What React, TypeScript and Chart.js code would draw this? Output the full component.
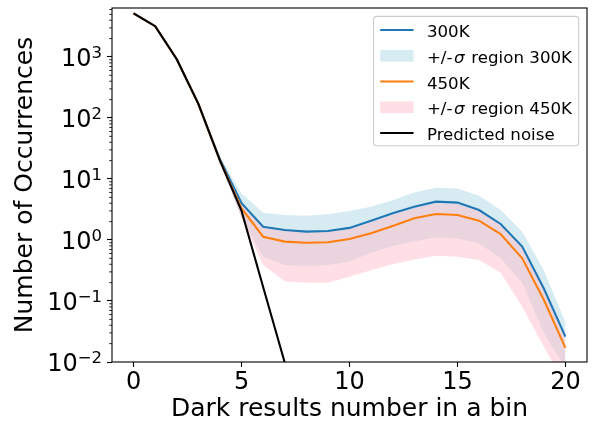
import React, { useEffect, useRef } from 'react';
import { Chart, registerables } from 'chart.js';

Chart.register(...registerables);

// ---------------- data ----------------
const xValues = [0, 1, 2, 3, 4, 5, 6, 7, 8, 9, 10, 11, 12, 13, 14, 15, 16, 17, 18, 19, 20];
const xTicks = [0, 5, 10, 15, 20];
const yDecades = [-2, -1, 0, 1, 2, 3];
const Y_MIN = 0.01;
const Y_MAX = 6350;
const X_MIN = -1;
const X_MAX = 21;

const predictedNoise = [5200, 3200, 920, 170, 20, 3.0, 0.17, 0.0098, 0.0003];

const mean300 = [5200, 3200, 920, 170, 21, 4.0, 1.65, 1.46, 1.37, 1.4, 1.58, 2.07, 2.74, 3.5, 4.25, 4.1, 3.1, 1.83, 0.78, 0.16, 0.026];
const upper300 = [5300, 3260, 940, 176, 23, 5.8, 2.8, 2.57, 2.5, 2.65, 3.0, 3.5, 4.5, 6.0, 7.2, 7.0, 5.3, 3.1, 1.37, 0.32, 0.045];
const lower300 = [5100, 3140, 900, 164, 19, 2.3, 0.53, 0.39, 0.375, 0.39, 0.44, 0.62, 0.8, 0.95, 1.1, 1.06, 0.88, 0.5, 0.2, 0.03, 0.008];

const mean450 = [5200, 3200, 920, 170, 20, 3.3, 1.13, 0.94, 0.9, 0.92, 1.04, 1.29, 1.7, 2.27, 2.67, 2.57, 2.07, 1.25, 0.5, 0.105, 0.017];
const upper450 = [5250, 3230, 930, 173, 21, 4.0, 1.6, 1.42, 1.33, 1.36, 1.5, 1.95, 2.6, 3.3, 4.0, 3.9, 3.0, 1.75, 0.75, 0.15, 0.024];
const lower450 = [5150, 3170, 910, 167, 18.5, 2.3, 0.39, 0.21, 0.2, 0.2, 0.25, 0.32, 0.4, 0.48, 0.55, 0.53, 0.47, 0.29, 0.08, 0.018, 0.004];

const legendLabels = ['300K', '+/-σ region 300K', '450K', '+/-σ region 450K', 'Predicted noise'];
const xTitle = 'Dark results number in a bin';
const yTitle = 'Number of Occurrences';

// ---------------- styles ----------------
const FONT = "'DejaVu Sans', sans-serif";
const BLUE = '#1f77b4';
const ORANGE = '#ff7f0e';
const BAND_BLUE = 'rgba(173,216,230,0.5)';
const BAND_PINK = 'rgba(255,192,203,0.5)';
const LINE_W = 2.08;
const SIGMA_GAP = 1.5;

const pts = (arr: number[]) => arr.map((y, i) => ({ x: xValues[i], y }));

const decorPlugin = {
  id: 'decor',
  afterDraw(chart: any) {
    const ctx: CanvasRenderingContext2D = chart.ctx;
    const { left, right, top, bottom } = chart.chartArea;
    const ys = chart.scales.y;
    ctx.save();

    // minor y ticks
    ctx.strokeStyle = '#000';
    ctx.lineWidth = 0.83;
    for (let k = -2; k <= 3; k++) {
      for (let m = 2; m <= 9; m++) {
        const v = m * Math.pow(10, k);
        if (v < Y_MIN || v > Y_MAX) continue;
        const py = ys.getPixelForValue(v);
        ctx.beginPath();
        ctx.moveTo(left - 2.8, py);
        ctx.lineTo(left, py);
        ctx.stroke();
      }
    }

    // frame
    ctx.lineWidth = 1.1;
    ctx.strokeRect(left, top, right - left, bottom - top);

    // y tick labels (10 with superscript)
    const F = 24;
    const FS = 16.5;
    const RAISE = 8;
    const LABEL_RIGHT = 102;
    ctx.fillStyle = '#000';
    ctx.textBaseline = 'alphabetic';
    ctx.textAlign = 'left';
    for (const k of yDecades) {
      const py = ys.getPixelForValue(Math.pow(10, k));
      const main = '10';
      const sup = k < 0 ? '\u2212' + String(-k) : String(k);
      ctx.font = `${F}px ${FONT}`;
      const wm = ctx.measureText(main).width;
      ctx.font = `${FS}px ${FONT}`;
      const wsup = ctx.measureText(sup).width;
      const x0 = LABEL_RIGHT - wm - wsup;
      const base = py + 9;
      ctx.font = `${F}px ${FONT}`;
      ctx.fillText(main, x0, base);
      ctx.font = `${FS}px ${FONT}`;
      ctx.fillText(sup, x0 + wm, base - RAISE);
    }

    // legend
    const LF = 16.67;
    const items = [
      { label: legendLabels[0], kind: 'line', color: BLUE },
      { label: legendLabels[1], kind: 'patch', color: BAND_BLUE },
      { label: legendLabels[2], kind: 'line', color: ORANGE },
      { label: legendLabels[3], kind: 'patch', color: BAND_PINK },
      { label: legendLabels[4], kind: 'line', color: '#000' },
    ];
    const measure = (s: string) => {
      const parts = s.split('σ');
      let w = 0;
      parts.forEach((p, i) => {
        ctx.font = `${LF}px ${FONT}`;
        w += ctx.measureText(p).width;
        if (i < parts.length - 1) {
          ctx.font = `italic ${LF}px ${FONT}`;
          w += ctx.measureText('σ').width + 2 * SIGMA_GAP;
        }
      });
      return w;
    };
    const maxText = Math.max(...items.map((it) => measure(it.label)));
    const pad = 0.4 * LF;
    const handleLen = 2 * LF;
    const textPad = 0.8 * LF;
    const boxW = pad + handleLen + textPad + maxText + pad;
    const rowH = 25.75;
    const boxH = 13.7 * 2 + rowH * (items.length - 1) - 1;
    const bx = right - 0.5 * LF - boxW;
    const by = top + 0.5 * LF;
    const r = 3.3;
    ctx.beginPath();
    ctx.moveTo(bx + r, by);
    ctx.lineTo(bx + boxW - r, by);
    ctx.arcTo(bx + boxW, by, bx + boxW, by + r, r);
    ctx.lineTo(bx + boxW, by + boxH - r);
    ctx.arcTo(bx + boxW, by + boxH, bx + boxW - r, by + boxH, r);
    ctx.lineTo(bx + r, by + boxH);
    ctx.arcTo(bx, by + boxH, bx, by + boxH - r, r);
    ctx.lineTo(bx, by + r);
    ctx.arcTo(bx, by, bx + r, by, r);
    ctx.closePath();
    ctx.fillStyle = 'rgba(255,255,255,0.8)';
    ctx.fill();
    ctx.strokeStyle = '#cccccc';
    ctx.lineWidth = 1.1;
    ctx.stroke();

    items.forEach((it, i) => {
      const cy = by + 13.7 + i * rowH;
      const hx = bx + pad;
      if (it.kind === 'line') {
        ctx.strokeStyle = it.color;
        ctx.lineWidth = LINE_W;
        ctx.beginPath();
        ctx.moveTo(hx, cy);
        ctx.lineTo(hx + handleLen, cy);
        ctx.stroke();
      } else {
        ctx.fillStyle = it.color;
        ctx.fillRect(hx, cy - 0.35 * LF, handleLen, 0.7 * LF);
      }
      ctx.fillStyle = '#000';
      let tx = hx + handleLen + textPad;
      const base = cy + 7.1;
      const parts = it.label.split('σ');
      parts.forEach((p, j) => {
        ctx.font = `${LF}px ${FONT}`;
        ctx.fillText(p, tx, base);
        tx += ctx.measureText(p).width;
        if (j < parts.length - 1) {
          tx += SIGMA_GAP;
          ctx.font = `italic ${LF}px ${FONT}`;
          ctx.fillText('σ', tx, base);
          tx += ctx.measureText('σ').width + SIGMA_GAP;
        }
      });
    });

    ctx.restore();
  },
};

export default function App() {
  const ref = useRef<HTMLCanvasElement>(null);

  useEffect(() => {
    document.body.style.margin = '0';
    const canvas = ref.current;
    if (!canvas) return;
    Chart.defaults.font.family = FONT;
    const chart = new Chart(canvas, {
      type: 'line',
      data: {
        datasets: [
          {
            label: legendLabels[0],
            data: pts(mean300),
            borderColor: BLUE,
            borderWidth: LINE_W,
            pointRadius: 0,
            fill: false,
            order: 2,
          },
          {
            label: 'upper300',
            data: pts(upper300),
            borderColor: 'rgba(0,0,0,0)',
            borderWidth: 0,
            pointRadius: 0,
            backgroundColor: BAND_BLUE,
            fill: '+1',
            order: 4,
          },
          {
            label: 'lower300',
            data: pts(lower300),
            borderColor: 'rgba(0,0,0,0)',
            borderWidth: 0,
            pointRadius: 0,
            fill: false,
            order: 4,
          },
          {
            label: legendLabels[2],
            data: pts(mean450),
            borderColor: ORANGE,
            borderWidth: LINE_W,
            pointRadius: 0,
            fill: false,
            order: 1,
          },
          {
            label: 'upper450',
            data: pts(upper450),
            borderColor: 'rgba(0,0,0,0)',
            borderWidth: 0,
            pointRadius: 0,
            backgroundColor: BAND_PINK,
            fill: '+1',
            order: 3,
          },
          {
            label: 'lower450',
            data: pts(lower450),
            borderColor: 'rgba(0,0,0,0)',
            borderWidth: 0,
            pointRadius: 0,
            fill: false,
            order: 3,
          },
          {
            label: legendLabels[4],
            data: pts(predictedNoise),
            borderColor: '#000',
            borderWidth: LINE_W,
            pointRadius: 0,
            fill: false,
            order: 0,
          },
        ],
      },
      options: {
        responsive: false,
        animation: false,
        devicePixelRatio: 1,
        events: [],
        layout: { padding: { top: 8, right: 5, left: 0, bottom: 0 } },
        plugins: {
          legend: { display: false },
          tooltip: { enabled: false },
          filler: { drawTime: 'beforeDatasetsDraw' },
        },
        scales: {
          x: {
            type: 'linear',
            min: X_MIN,
            max: X_MAX,
            afterBuildTicks: (scale: any) => {
              scale.ticks = xTicks.map((v) => ({ value: v }));
            },
            afterFit: (scale: any) => {
              scale.height = 61;
            },
            border: { display: false },
            grid: {
              drawOnChartArea: false,
              drawTicks: true,
              tickLength: 5,
              tickWidth: 1.1,
              tickColor: '#000',
            },
            ticks: {
              autoSkip: false,
              maxRotation: 0,
              padding: 1,
              color: '#000',
              font: { family: FONT, size: 24 },
            },
            title: {
              display: true,
              text: xTitle,
              color: '#000',
              font: { family: FONT, size: 25, lineHeight: 1 },
              padding: { top: 0, bottom: 1 },
            },
          },
          y: {
            type: 'logarithmic',
            min: Y_MIN,
            max: Y_MAX,
            afterBuildTicks: (scale: any) => {
              scale.ticks = yDecades.map((k) => ({ value: Math.pow(10, k), major: true }));
            },
            afterFit: (scale: any) => {
              scale.width = 112;
            },
            border: { display: false },
            grid: {
              drawOnChartArea: false,
              drawTicks: true,
              tickLength: 5,
              tickWidth: 1.1,
              tickColor: '#000',
            },
            ticks: { display: false },
            title: {
              display: true,
              text: yTitle,
              color: '#000',
              font: { family: FONT, size: 25 },
              padding: { top: 10, bottom: 0 },
            },
          },
        },
      },
      plugins: [decorPlugin],
    } as any);
    return () => chart.destroy();
  }, []);

  return <canvas ref={ref} width={592} height={423} style={{ display: 'block' }} />;
}
